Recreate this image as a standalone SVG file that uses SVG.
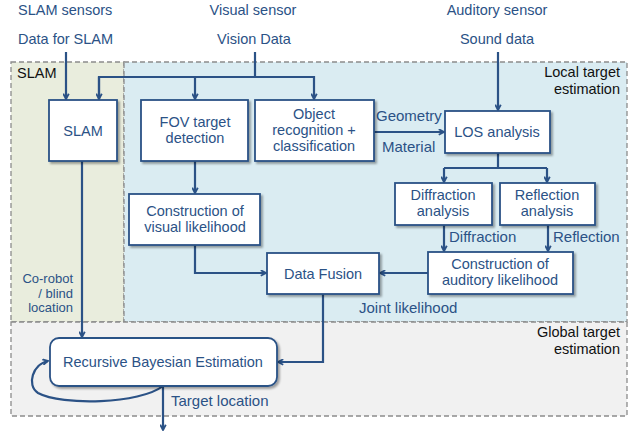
<svg xmlns="http://www.w3.org/2000/svg" width="638" height="432" viewBox="0 0 638 432">
  <defs>
    <marker id="arr" viewBox="0 0 10 10" refX="9" refY="5" markerWidth="7" markerHeight="7" orient="auto" markerUnits="userSpaceOnUse">
      <path d="M1.5,1 L9,5 L1.5,9" fill="none" stroke="#2b5286" stroke-width="2.6"/>
    </marker>
    <filter id="sh" x="-10%" y="-10%" width="130%" height="140%">
      <feGaussianBlur in="SourceAlpha" stdDeviation="1.2"/>
      <feOffset dx="2" dy="2" result="b"/>
      <feComponentTransfer><feFuncA type="linear" slope="0.35"/></feComponentTransfer>
      <feMerge><feMergeNode/><feMergeNode in="SourceGraphic"/></feMerge>
    </filter>
  </defs>
  <style>
    text { font-family: "Liberation Sans", Arial, sans-serif; }
    .t { fill: #2b5286; font-size: 14.5px; }
    .c { text-anchor: middle; }
    .r { text-anchor: end; }
    .k { fill: #111; font-size: 14.5px; }
    .lbl { fill: #2b5286; font-size: 15px; }
    .sm { font-size: 13px; }
    .box { fill: #fff; stroke: #2b5286; stroke-width: 1.8; filter: url(#sh); }
    .ln { fill: none; stroke: #2b5286; stroke-width: 2.2; }
    .zone { stroke: #8c8c8c; stroke-width: 1.3; stroke-dasharray: 5 3; }
  </style>

  <rect width="638" height="432" fill="#fff"/>

  <!-- zones -->
  <g id="zones">
    <rect class="zone" x="11" y="62" width="113" height="260" fill="#e9eddd"/>
    <rect class="zone" x="124" y="62" width="503" height="260" fill="#daecf2"/>
    <rect class="zone" x="11" y="322" width="616" height="94" fill="#f1f1f1"/>
    <text class="k" x="17" y="78">SLAM</text>
    <text class="k r" x="620" y="77">Local target</text>
    <text class="k r" x="620" y="93.5">estimation</text>
    <text class="k r" x="620" y="337">Global target</text>
    <text class="k r" x="620" y="353.5">estimation</text>
  </g>

  <!-- sources -->
  <g id="sources">
    <text class="t" x="18" y="15">SLAM sensors</text>
    <text class="t" x="18" y="44">Data for SLAM</text>
    <text class="t c" x="253" y="15">Visual sensor</text>
    <text class="t c" x="254" y="44">Vision Data</text>
    <text class="t c" x="497" y="15">Auditory sensor</text>
    <text class="t c" x="497" y="44">Sound data</text>
  </g>

  <!-- connectors -->
  <g id="connectors">
    <path class="ln" d="M66,52 V99" marker-end="url(#arr)"/>
    <path class="ln" d="M255,52 V77"/>
    <path class="ln" d="M99,99 V77 H314 V99" marker-end="url(#arr)"/>
    <path class="ln" d="M99,77 V99" marker-end="url(#arr)"/>
    <path class="ln" d="M195,77 V99" marker-end="url(#arr)"/>
    <path class="ln" d="M374,132 H444" marker-end="url(#arr)"/>
    <path class="ln" d="M498,52 V110" marker-end="url(#arr)"/>
    <path class="ln" d="M498,153 V168"/>
    <path class="ln" d="M444,168 H547"/>
    <path class="ln" d="M444,168 V182" marker-end="url(#arr)"/>
    <path class="ln" d="M547,168 V182" marker-end="url(#arr)"/>
    <path class="ln" d="M195,161 V193" marker-end="url(#arr)"/>
    <path class="ln" d="M195,245 V273 H266" marker-end="url(#arr)"/>
    <path class="ln" d="M444,225 V251" marker-end="url(#arr)"/>
    <path class="ln" d="M548,225 V251" marker-end="url(#arr)"/>
    <path class="ln" d="M428,273 H380" marker-end="url(#arr)"/>
    <path class="ln" d="M323,294 V362 H278" marker-end="url(#arr)"/>
    <path class="ln" d="M82,161 V337" marker-end="url(#arr)"/>
    <path class="ln" d="M163,386 C140,404 62,406 38,393 C26,385 33,364 48,361" marker-end="url(#arr)"/>
    <path class="ln" d="M163,386 V430" marker-end="url(#arr)"/>

    <text class="lbl" x="376" y="121">Geometry</text>
    <text class="lbl" x="382" y="152">Material</text>
    <text class="lbl" x="449" y="242">Diffraction</text>
    <text class="lbl" x="553" y="242">Reflection</text>
    <text class="lbl" x="359" y="313">Joint likelihood</text>
    <text class="lbl sm r" x="73" y="283">Co-robot</text>
    <text class="lbl sm r" x="73" y="297.5">/ blind</text>
    <text class="lbl sm r" x="73" y="312">location</text>
    <text class="lbl" x="171" y="406">Target location</text>
  </g>

  <!-- nodes -->
  <g id="slam">
    <rect class="box" x="49" y="100" width="68" height="61"/>
    <text class="t c" x="83" y="135.5">SLAM</text>
  </g>
  <g id="fov">
    <rect class="box" x="141" y="100" width="107" height="61"/>
    <text class="t c" x="195" y="127">FOV target</text>
    <text class="t c" x="195" y="143">detection</text>
  </g>
  <g id="objrec">
    <rect class="box" x="255" y="100" width="119" height="61"/>
    <text class="t c" x="314" y="119">Object</text>
    <text class="t c" x="314" y="135">recognition +</text>
    <text class="t c" x="314" y="151">classification</text>
  </g>
  <g id="los">
    <rect class="box" x="445" y="111" width="105" height="42"/>
    <text class="t c" x="497" y="137">LOS analysis</text>
  </g>
  <g id="diffraction">
    <rect class="box" x="395" y="183" width="97" height="42"/>
    <text class="t c" x="443" y="200">Diffraction</text>
    <text class="t c" x="443" y="216">analysis</text>
  </g>
  <g id="reflection">
    <rect class="box" x="500" y="183" width="95" height="42"/>
    <text class="t c" x="547" y="200">Reflection</text>
    <text class="t c" x="547" y="216">analysis</text>
  </g>
  <g id="visual-likelihood">
    <rect class="box" x="129" y="194" width="131" height="51"/>
    <text class="t c" x="195" y="216">Construction of</text>
    <text class="t c" x="195" y="232">visual likelihood</text>
  </g>
  <g id="fusion">
    <rect class="box" x="267" y="253" width="112" height="41"/>
    <text class="t c" x="323" y="278.5">Data Fusion</text>
  </g>
  <g id="auditory-likelihood">
    <rect class="box" x="428" y="252" width="145" height="42"/>
    <text class="t c" x="500" y="269">Construction of</text>
    <text class="t c" x="500" y="285">auditory likelihood</text>
  </g>
  <g id="rbe">
    <rect class="box" x="50" y="338" width="227" height="48" rx="9"/>
    <text class="t c" x="163" y="367">Recursive Bayesian Estimation</text>
  </g>
</svg>
